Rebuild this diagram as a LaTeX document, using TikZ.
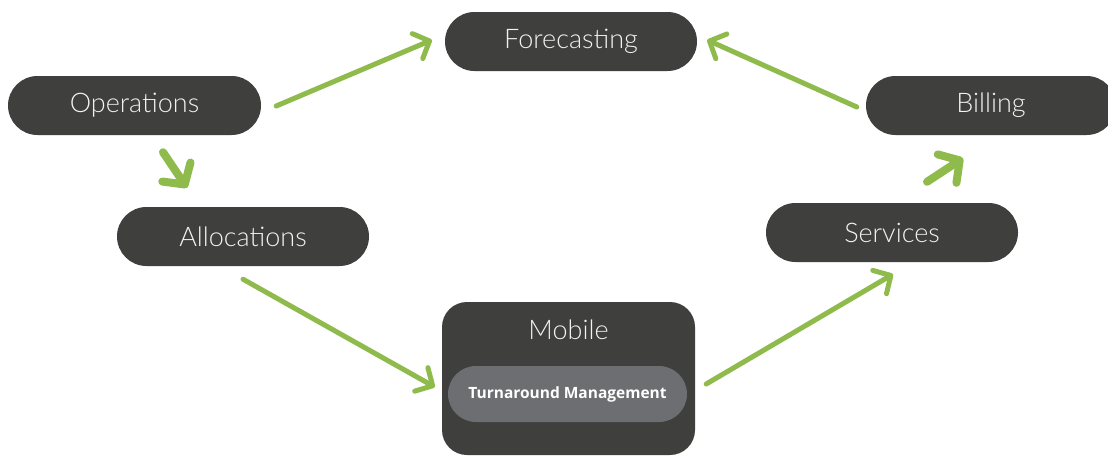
\documentclass[tikz,border=0pt]{standalone}
\usepackage{fontspec}
\setmainfont{Lato}
\newfontfamily\lightfont{Lato Light}
\newfontfamily\opensans{Open Sans}
\usetikzlibrary{arrows.meta,calc}
\definecolor{boxdark}{HTML}{3F3F3D}
\definecolor{boxgray}{HTML}{6D6E71}
\definecolor{arrgreen}{HTML}{8FBA4C}
\definecolor{txtlight}{HTML}{F2F2F2}
\tikzset{
  pill/.style={rectangle, rounded corners=29.5pt, fill=boxdark, minimum width=252pt, minimum height=59pt,
    inner sep=0pt, text=txtlight, font=\lightfont\fontsize{27}{31}\selectfont},
  longarr/.style={draw=arrgreen, line width=5pt, line cap=round,
    -{Straight Barb[length=13pt,width=27pt,round]}},
  shortarr/.style={draw=arrgreen, line width=8pt, line cap=round,
    -{Straight Barb[length=15pt,width=34pt,round]}}
}
\begin{document}
\begin{tikzpicture}[x=1pt,y=-1pt]
\useasboundingbox (0,0) rectangle (1108,455);
\clip (0,0) rectangle (1108,455);
\fill[white] (0,0) rectangle (1108,455);
\node[pill] (fore) at (571,41.5) {Forecasting};
\node[pill, minimum width=253pt] (ops) at (134.5,105.5) {Operations};
\node[pill, minimum width=250pt] (bill) at (991,105.5) {Billing};
\node[pill] (alloc) at (243,236.5) {Allocations};
\node[pill] (serv) at (892,232.5) {Services};
\node[rectangle, rounded corners=25pt, fill=boxdark, minimum width=253pt, minimum height=153pt, inner sep=0pt] (mob) at (568.5,378.5) {};
\node[text=txtlight, font=\lightfont\fontsize{27}{31}\selectfont, inner sep=0pt] (mobt) at (568.5,330) {Mobile};
\node[rectangle, rounded corners=28pt, fill=boxgray, minimum width=239pt, minimum height=56pt, inner sep=0pt,
  text=white, font=\opensans\bfseries\fontsize{15.5}{18}\selectfont] (turn) at (567.5,394) {Turnaround Management};
\draw[longarr] ($(ops.east)+(15,0.5)$) -- ($(fore.west)+(-13,-1.5)$);
\draw[shortarr] ($(ops.south)+(28.5,17)$) -- ($(alloc.north)+(-56,-19)$);
\draw[longarr] ($(alloc.south)+(0,13)$) -- ($(mob.west)+(-7,8.5)$);
\draw[longarr] ($(mob.east)+(11,5.5)$) -- ($(serv.south)+(1,12)$);
\draw[shortarr] ($(serv.north)+(35,-21)$) -- ($(bill.south)+(-28,23)$);
\draw[longarr] ($(bill.west)+(-9,1.5)$) -- ($(fore.east)+(10,-1.5)$);
\end{tikzpicture}
\end{document}
